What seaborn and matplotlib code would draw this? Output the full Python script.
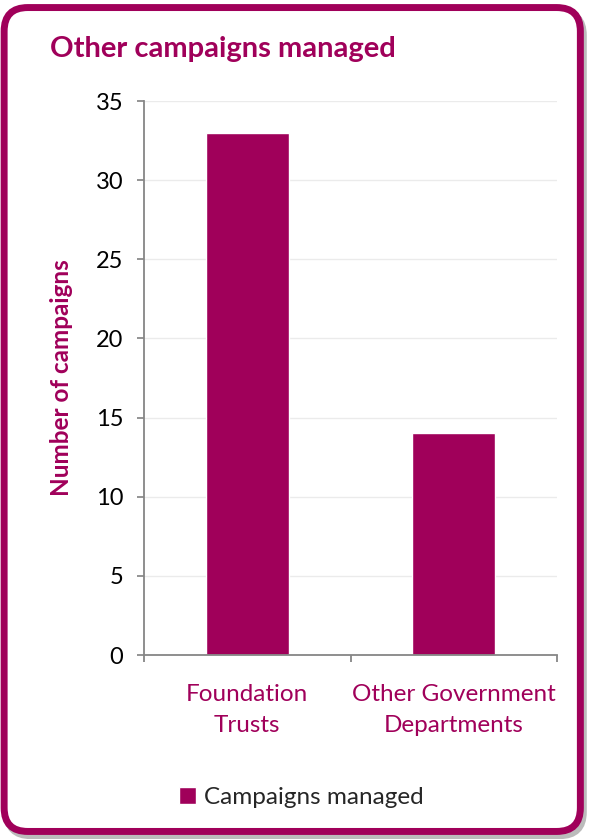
import matplotlib
matplotlib.use("Agg")
import matplotlib.pyplot as plt
from matplotlib.patches import FancyBboxPatch
import seaborn as sns
import pandas as pd

categories = ["Foundation\nTrusts", "Other Government\nDepartments"]
campaigns = [33, 14]
yticks = [0, 5, 10, 15, 20, 25, 30, 35]

MAGENTA = "#A0005A"

sns.set_theme(style="white")
plt.rcParams['font.family'] = ['Lato', 'DejaVu Sans']

df = pd.DataFrame({"category": categories, "campaigns": campaigns})

fig = plt.figure(figsize=(5.91, 8.39), dpi=100)
ax = fig.add_axes([0.2437, 0.2193, 0.6988, 0.6603])

sns.barplot(data=df, x="category", y="campaigns", color=MAGENTA, width=0.4,
            saturation=1, ax=ax, label="Campaigns managed")

ax.set_ylim(0, 35)
ax.set_xlim(-0.5, 1.5)
ax.set_yticks(yticks)
ax.yaxis.grid(True, color="#EBEBEB", linewidth=1)
ax.set_axisbelow(True)
for s in ["top", "right"]:
    ax.spines[s].set_visible(False)
for s in ["left", "bottom"]:
    ax.spines[s].set_color("#868686")
    ax.spines[s].set_linewidth(1.3)

ax.tick_params(axis="y", which="major", left=True, length=5, color="#868686",
               labelsize=17, labelcolor="black", pad=10)
ax.tick_params(axis="x", which="major", length=0, labelsize=17.5,
               labelcolor=MAGENTA, pad=21)
ax.set_xticks([-0.5, 0.5, 1.5], minor=True)
ax.tick_params(axis="x", which="minor", bottom=True, length=5, color="#868686", width=1.3)
for lbl in ax.get_xticklabels():
    lbl.set_linespacing(1.55)

ax.set_xlabel("")
ax.set_ylabel("Number of campaigns", fontsize=17.5, fontweight="bold", color=MAGENTA, labelpad=16)

fig.text(0.085, 0.942, "Other campaigns managed", fontsize=21, fontweight="bold",
         color=MAGENTA, ha="left", va="center")

leg = ax.legend(loc="center", bbox_to_anchor=(0.51, 0.05), bbox_transform=fig.transFigure,
                frameon=False, fontsize=17.5, handlelength=0.7, handleheight=0.7,
                handletextpad=0.3)

# shadow and rounded frame
shadow = FancyBboxPatch((0.012, 0.004), 0.975, 0.982, boxstyle="round,pad=0,rounding_size=0.04",
                        transform=fig.transFigure, facecolor="none", edgecolor="#BBBBBB",
                        linewidth=5, mutation_aspect=591 / 839, zorder=-2)
frame = FancyBboxPatch((0.007, 0.009), 0.975, 0.982, boxstyle="round,pad=0,rounding_size=0.04",
                       transform=fig.transFigure, facecolor="white", edgecolor=MAGENTA,
                       linewidth=5, mutation_aspect=591 / 839, zorder=-1)
fig.patches.extend([shadow, frame])

fig.savefig("out.png", dpi=100)
